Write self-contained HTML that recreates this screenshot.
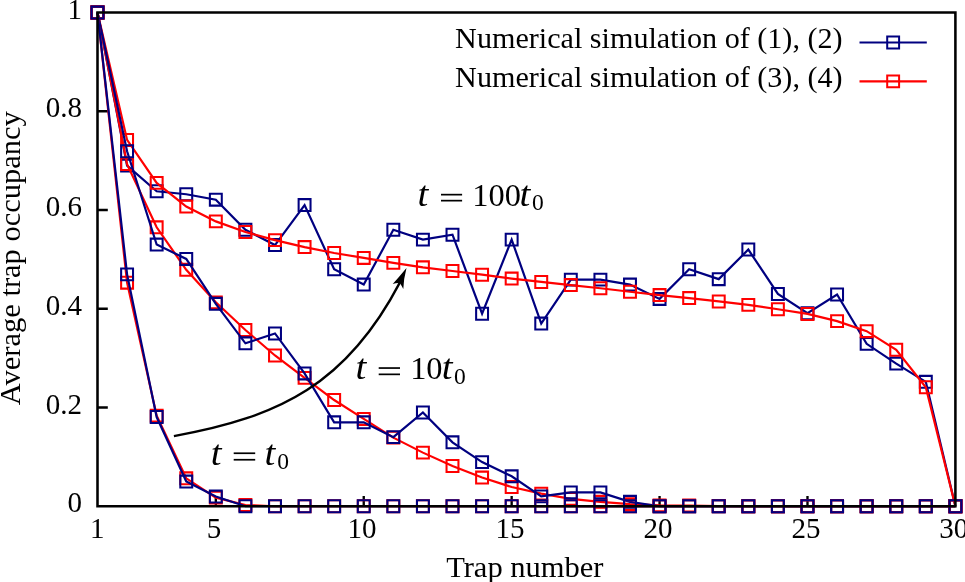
<!DOCTYPE html>
<html><head><meta charset="utf-8"><style>
html,body{margin:0;padding:0;background:#fff;}
body{width:965px;height:582px;overflow:hidden;}
svg{display:block;}
svg{will-change:transform;}
text{font-family:"Liberation Serif",serif;fill:#000;}
.i{font-style:italic;}
</style></head><body>
<svg width="965" height="582" viewBox="0 0 965 582">
<rect width="965" height="582" fill="#fff"/>
<path d="M215.83,506.25v-10.3M363.74,506.25v-10.3M511.66,506.25v-10.3M659.57,506.25v-10.3M807.49,506.25v-10.3M97.5,407.51h10.3M97.5,308.77h10.3M97.5,210.03h10.3M97.5,111.29h10.3" stroke="#000" stroke-width="2.35" fill="none"/>
<polyline points="97.50,12.55 127.08,165.60 156.67,191.27 186.25,194.23 215.83,199.66 245.41,229.78 275.00,245.08 304.58,205.09 334.16,269.27 363.74,284.58 393.33,229.78 422.91,239.65 452.49,234.71 482.08,313.71 511.66,239.65 541.24,323.58 570.82,279.64 600.41,279.64 629.99,284.58 659.57,298.90 689.16,269.27 718.74,279.15 748.32,249.53 777.90,293.96 807.49,313.21 837.07,294.45 866.65,343.82 896.23,363.57 925.82,381.84 955.40,506.25" fill="none" stroke="#000080" stroke-width="2.2" stroke-linejoin="miter" stroke-miterlimit="10"/>
<path d="M91.55,6.60h11.90v11.90h-11.90zM121.13,159.65h11.90v11.90h-11.90zM150.72,185.32h11.90v11.90h-11.90zM180.30,188.28h11.90v11.90h-11.90zM209.88,193.71h11.90v11.90h-11.90zM239.46,223.83h11.90v11.90h-11.90zM269.05,239.13h11.90v11.90h-11.90zM298.63,199.14h11.90v11.90h-11.90zM328.21,263.32h11.90v11.90h-11.90zM357.79,278.63h11.90v11.90h-11.90zM387.38,223.83h11.90v11.90h-11.90zM416.96,233.70h11.90v11.90h-11.90zM446.54,228.76h11.90v11.90h-11.90zM476.13,307.76h11.90v11.90h-11.90zM505.71,233.70h11.90v11.90h-11.90zM535.29,317.63h11.90v11.90h-11.90zM564.87,273.69h11.90v11.90h-11.90zM594.46,273.69h11.90v11.90h-11.90zM624.04,278.63h11.90v11.90h-11.90zM653.62,292.95h11.90v11.90h-11.90zM683.21,263.32h11.90v11.90h-11.90zM712.79,273.20h11.90v11.90h-11.90zM742.37,243.58h11.90v11.90h-11.90zM771.95,288.01h11.90v11.90h-11.90zM801.54,307.26h11.90v11.90h-11.90zM831.12,288.50h11.90v11.90h-11.90zM860.70,337.87h11.90v11.90h-11.90zM890.28,357.62h11.90v11.90h-11.90zM919.87,375.89h11.90v11.90h-11.90zM949.45,500.30h11.90v11.90h-11.90z" fill="none" stroke="#000080" stroke-width="2.05"/>
<polyline points="97.50,12.55 127.08,139.92 156.67,182.88 186.25,206.57 215.83,221.39 245.41,232.00 275.00,240.15 304.58,247.06 334.16,252.98 363.74,257.92 393.33,262.86 422.91,267.30 452.49,271.00 482.08,274.70 511.66,278.56 541.24,281.96 570.82,285.07 600.41,288.28 629.99,291.74 659.57,295.05 689.16,298.06 718.74,301.46 748.32,304.87 777.90,309.26 807.49,313.95 837.07,321.11 866.65,331.18 896.23,349.75 925.82,387.27 955.40,506.25" fill="none" stroke="#ff0000" stroke-width="2.2" stroke-linejoin="miter" stroke-miterlimit="10"/>
<path d="M91.55,6.60h11.90v11.90h-11.90zM121.13,133.97h11.90v11.90h-11.90zM150.72,176.93h11.90v11.90h-11.90zM180.30,200.62h11.90v11.90h-11.90zM209.88,215.44h11.90v11.90h-11.90zM239.46,226.05h11.90v11.90h-11.90zM269.05,234.20h11.90v11.90h-11.90zM298.63,241.11h11.90v11.90h-11.90zM328.21,247.03h11.90v11.90h-11.90zM357.79,251.97h11.90v11.90h-11.90zM387.38,256.91h11.90v11.90h-11.90zM416.96,261.35h11.90v11.90h-11.90zM446.54,265.05h11.90v11.90h-11.90zM476.13,268.75h11.90v11.90h-11.90zM505.71,272.61h11.90v11.90h-11.90zM535.29,276.01h11.90v11.90h-11.90zM564.87,279.12h11.90v11.90h-11.90zM594.46,282.33h11.90v11.90h-11.90zM624.04,285.79h11.90v11.90h-11.90zM653.62,289.10h11.90v11.90h-11.90zM683.21,292.11h11.90v11.90h-11.90zM712.79,295.51h11.90v11.90h-11.90zM742.37,298.92h11.90v11.90h-11.90zM771.95,303.31h11.90v11.90h-11.90zM801.54,308.00h11.90v11.90h-11.90zM831.12,315.16h11.90v11.90h-11.90zM860.70,325.23h11.90v11.90h-11.90zM890.28,343.80h11.90v11.90h-11.90zM919.87,381.32h11.90v11.90h-11.90zM949.45,500.30h11.90v11.90h-11.90z" fill="none" stroke="#ff0000" stroke-width="2.05"/>
<polyline points="97.50,12.55 127.08,164.12 156.67,227.31 186.25,269.77 215.83,302.35 245.41,330.00 275.00,355.47 304.58,377.89 334.16,400.01 363.74,418.91 393.33,437.63 422.91,452.63 452.49,466.01 482.08,477.57 511.66,487.00 541.24,493.66 570.82,498.84 600.41,501.81 629.99,504.13 659.57,505.36 689.16,505.51 718.74,506.00 748.32,506.25 777.90,506.25 807.49,506.25 837.07,506.25 866.65,506.25 896.23,506.25 925.82,506.25 955.40,506.25" fill="none" stroke="#ff0000" stroke-width="2.2" stroke-linejoin="miter" stroke-miterlimit="10"/>
<path d="M91.55,6.60h11.90v11.90h-11.90zM121.13,158.17h11.90v11.90h-11.90zM150.72,221.36h11.90v11.90h-11.90zM180.30,263.82h11.90v11.90h-11.90zM209.88,296.40h11.90v11.90h-11.90zM239.46,324.05h11.90v11.90h-11.90zM269.05,349.52h11.90v11.90h-11.90zM298.63,371.94h11.90v11.90h-11.90zM328.21,394.06h11.90v11.90h-11.90zM357.79,412.96h11.90v11.90h-11.90zM387.38,431.68h11.90v11.90h-11.90zM416.96,446.68h11.90v11.90h-11.90zM446.54,460.06h11.90v11.90h-11.90zM476.13,471.62h11.90v11.90h-11.90zM505.71,481.05h11.90v11.90h-11.90zM535.29,487.71h11.90v11.90h-11.90zM564.87,492.89h11.90v11.90h-11.90zM594.46,495.86h11.90v11.90h-11.90zM624.04,498.18h11.90v11.90h-11.90zM653.62,499.41h11.90v11.90h-11.90zM683.21,499.56h11.90v11.90h-11.90zM712.79,500.05h11.90v11.90h-11.90zM742.37,500.30h11.90v11.90h-11.90zM771.95,500.30h11.90v11.90h-11.90zM801.54,500.30h11.90v11.90h-11.90zM831.12,500.30h11.90v11.90h-11.90zM860.70,500.30h11.90v11.90h-11.90zM890.28,500.30h11.90v11.90h-11.90zM919.87,500.30h11.90v11.90h-11.90zM949.45,500.30h11.90v11.90h-11.90z" fill="none" stroke="#ff0000" stroke-width="2.05"/>
<polyline points="97.50,12.55 127.08,151.28 156.67,244.59 186.25,258.91 215.83,303.83 245.41,343.33 275.00,333.46 304.58,373.44 334.16,422.32 363.74,422.32 393.33,437.13 422.91,412.45 452.49,442.32 482.08,462.11 511.66,476.33 541.24,496.38 570.82,492.43 600.41,492.43 629.99,501.81 659.57,506.25 689.16,506.25 718.74,506.25 748.32,506.25 777.90,506.25 807.49,506.25 837.07,506.25 866.65,506.25 896.23,506.25 925.82,506.25 955.40,506.25" fill="none" stroke="#000080" stroke-width="2.2" stroke-linejoin="miter" stroke-miterlimit="10"/>
<path d="M91.55,6.60h11.90v11.90h-11.90zM121.13,145.33h11.90v11.90h-11.90zM150.72,238.64h11.90v11.90h-11.90zM180.30,252.96h11.90v11.90h-11.90zM209.88,297.88h11.90v11.90h-11.90zM239.46,337.38h11.90v11.90h-11.90zM269.05,327.51h11.90v11.90h-11.90zM298.63,367.49h11.90v11.90h-11.90zM328.21,416.37h11.90v11.90h-11.90zM357.79,416.37h11.90v11.90h-11.90zM387.38,431.18h11.90v11.90h-11.90zM416.96,406.50h11.90v11.90h-11.90zM446.54,436.37h11.90v11.90h-11.90zM476.13,456.16h11.90v11.90h-11.90zM505.71,470.38h11.90v11.90h-11.90zM535.29,490.43h11.90v11.90h-11.90zM564.87,486.48h11.90v11.90h-11.90zM594.46,486.48h11.90v11.90h-11.90zM624.04,495.86h11.90v11.90h-11.90zM653.62,500.30h11.90v11.90h-11.90zM683.21,500.30h11.90v11.90h-11.90zM712.79,500.30h11.90v11.90h-11.90zM742.37,500.30h11.90v11.90h-11.90zM771.95,500.30h11.90v11.90h-11.90zM801.54,500.30h11.90v11.90h-11.90zM831.12,500.30h11.90v11.90h-11.90zM860.70,500.30h11.90v11.90h-11.90zM890.28,500.30h11.90v11.90h-11.90zM919.87,500.30h11.90v11.90h-11.90zM949.45,500.30h11.90v11.90h-11.90z" fill="none" stroke="#000080" stroke-width="2.05"/>
<polyline points="97.50,12.55 127.08,282.65 156.67,415.66 186.25,478.31 215.83,497.61 245.41,505.02 275.00,506.25 304.58,506.25 334.16,506.25 363.74,506.25 393.33,506.25 422.91,506.25 452.49,506.25 482.08,506.25 511.66,506.25 541.24,506.25 570.82,506.25 600.41,506.25 629.99,506.25 659.57,506.25 689.16,506.25 718.74,506.25 748.32,506.25 777.90,506.25 807.49,506.25 837.07,506.25 866.65,506.25 896.23,506.25 925.82,506.25 955.40,506.25" fill="none" stroke="#ff0000" stroke-width="2.2" stroke-linejoin="miter" stroke-miterlimit="10"/>
<path d="M91.55,6.60h11.90v11.90h-11.90zM121.13,276.70h11.90v11.90h-11.90zM150.72,409.71h11.90v11.90h-11.90zM180.30,472.36h11.90v11.90h-11.90zM209.88,491.66h11.90v11.90h-11.90zM239.46,499.07h11.90v11.90h-11.90zM269.05,500.30h11.90v11.90h-11.90zM298.63,500.30h11.90v11.90h-11.90zM328.21,500.30h11.90v11.90h-11.90zM357.79,500.30h11.90v11.90h-11.90zM387.38,500.30h11.90v11.90h-11.90zM416.96,500.30h11.90v11.90h-11.90zM446.54,500.30h11.90v11.90h-11.90zM476.13,500.30h11.90v11.90h-11.90zM505.71,500.30h11.90v11.90h-11.90zM535.29,500.30h11.90v11.90h-11.90zM564.87,500.30h11.90v11.90h-11.90zM594.46,500.30h11.90v11.90h-11.90zM624.04,500.30h11.90v11.90h-11.90zM653.62,500.30h11.90v11.90h-11.90zM683.21,500.30h11.90v11.90h-11.90zM712.79,500.30h11.90v11.90h-11.90zM742.37,500.30h11.90v11.90h-11.90zM771.95,500.30h11.90v11.90h-11.90zM801.54,500.30h11.90v11.90h-11.90zM831.12,500.30h11.90v11.90h-11.90zM860.70,500.30h11.90v11.90h-11.90zM890.28,500.30h11.90v11.90h-11.90zM919.87,500.30h11.90v11.90h-11.90zM949.45,500.30h11.90v11.90h-11.90z" fill="none" stroke="#ff0000" stroke-width="2.05"/>
<polyline points="97.50,12.55 127.08,274.36 156.67,417.04 186.25,481.56 215.83,496.57 245.41,506.25 275.00,506.25 304.58,506.25 334.16,506.25 363.74,506.25 393.33,506.25 422.91,506.25 452.49,506.25 482.08,506.25 511.66,506.25 541.24,506.25 570.82,506.25 600.41,506.25 629.99,506.25 659.57,506.25 689.16,506.25 718.74,506.25 748.32,506.25 777.90,506.25 807.49,506.25 837.07,506.25 866.65,506.25 896.23,506.25 925.82,506.25 955.40,506.25" fill="none" stroke="#000080" stroke-width="2.2" stroke-linejoin="miter" stroke-miterlimit="10"/>
<path d="M91.55,6.60h11.90v11.90h-11.90zM121.13,268.41h11.90v11.90h-11.90zM150.72,411.09h11.90v11.90h-11.90zM180.30,475.62h11.90v11.90h-11.90zM209.88,490.62h11.90v11.90h-11.90zM239.46,500.30h11.90v11.90h-11.90zM269.05,500.30h11.90v11.90h-11.90zM298.63,500.30h11.90v11.90h-11.90zM328.21,500.30h11.90v11.90h-11.90zM357.79,500.30h11.90v11.90h-11.90zM387.38,500.30h11.90v11.90h-11.90zM416.96,500.30h11.90v11.90h-11.90zM446.54,500.30h11.90v11.90h-11.90zM476.13,500.30h11.90v11.90h-11.90zM505.71,500.30h11.90v11.90h-11.90zM535.29,500.30h11.90v11.90h-11.90zM564.87,500.30h11.90v11.90h-11.90zM594.46,500.30h11.90v11.90h-11.90zM624.04,500.30h11.90v11.90h-11.90zM653.62,500.30h11.90v11.90h-11.90zM683.21,500.30h11.90v11.90h-11.90zM712.79,500.30h11.90v11.90h-11.90zM742.37,500.30h11.90v11.90h-11.90zM771.95,500.30h11.90v11.90h-11.90zM801.54,500.30h11.90v11.90h-11.90zM831.12,500.30h11.90v11.90h-11.90zM860.70,500.30h11.90v11.90h-11.90zM890.28,500.30h11.90v11.90h-11.90zM919.87,500.30h11.90v11.90h-11.90zM949.45,500.30h11.90v11.90h-11.90z" fill="none" stroke="#000080" stroke-width="2.05"/>
<path d="M173.9,436.1 C280.36,416.91 347.0,383.5 399.8,282.6" fill="none" stroke="#000" stroke-width="2.35"/>
<path d="M406.5,268.0 Q399,277 392.7,284.1 Q397,282.6 400.0,283.2 Q401.6,285.6 403.3,289.0 Q403.6,279 406.5,268.0 Z" fill="#000"/>
<path d="M97.5,12.55H955.4V506.25H97.5Z" fill="none" stroke="#000" stroke-width="2.55"/>
<text x="82" y="18.7" font-size="29" text-anchor="end">1</text>
<text x="82" y="117.4" font-size="29" text-anchor="end">0.8</text>
<text x="82" y="216.1" font-size="29" text-anchor="end">0.6</text>
<text x="82" y="314.9" font-size="29" text-anchor="end">0.4</text>
<text x="82" y="413.6" font-size="29" text-anchor="end">0.2</text>
<text x="82" y="512.4" font-size="29" text-anchor="end">0</text>
<text x="97.3" y="538" font-size="29" text-anchor="middle">1</text>
<text x="214.1" y="538" font-size="29" text-anchor="middle">5</text>
<text x="362.1" y="538" font-size="29" text-anchor="middle">10</text>
<text x="510.1" y="538" font-size="29" text-anchor="middle">15</text>
<text x="658.0" y="538" font-size="29" text-anchor="middle">20</text>
<text x="805.9" y="538" font-size="29" text-anchor="middle">25</text>
<text x="953.8" y="538" font-size="29" text-anchor="middle">30</text>
<text x="446.15" y="577" font-size="29" textLength="157.4" lengthAdjust="spacingAndGlyphs">Trap number</text>
<text transform="translate(20.1,405.2) rotate(-90)" font-size="29" textLength="294.0" lengthAdjust="spacingAndGlyphs">Average trap occupancy</text>
<text x="455.13" y="47.8" font-size="29" textLength="387.5" lengthAdjust="spacingAndGlyphs">Numerical simulation of (1), (2)</text>
<text x="455.13" y="86.7" font-size="29" textLength="387.5" lengthAdjust="spacingAndGlyphs">Numerical simulation of (3), (4)</text>
<path d="M859.5,42.5H926.8" stroke="#000080" stroke-width="2.2"/>
<path d="M887.20,36.55h11.9v11.9h-11.9z" stroke="#000080" stroke-width="2" fill="none"/>
<path d="M859.5,81.4H926.8" stroke="#ff0000" stroke-width="2.2"/>
<path d="M887.20,75.45h11.9v11.9h-11.9z" stroke="#ff0000" stroke-width="2" fill="none"/>
<text class="i" x="417.62" y="205.60" font-size="36.0" textLength="10.80" lengthAdjust="spacingAndGlyphs">t</text>
<rect x="441.00" y="193.80" width="21.10" height="1.7" fill="#000"/><rect x="441.00" y="199.80" width="21.10" height="1.7" fill="#000"/>
<text x="472.35" y="205.60" font-size="32.4">100</text>
<text class="i" x="519.42" y="205.60" font-size="36.0" textLength="10.80" lengthAdjust="spacingAndGlyphs">t</text>
<text x="532.10" y="210.47" font-size="23.5">0</text>
<text class="i" x="355.52" y="379.40" font-size="36.0" textLength="10.80" lengthAdjust="spacingAndGlyphs">t</text>
<rect x="378.70" y="367.20" width="21.30" height="1.7" fill="#000"/><rect x="378.70" y="373.50" width="21.30" height="1.7" fill="#000"/>
<text x="410.15" y="379.40" font-size="32.4">10</text>
<text class="i" x="441.72" y="379.40" font-size="36.0" textLength="10.80" lengthAdjust="spacingAndGlyphs">t</text>
<text x="454.10" y="384.37" font-size="23.5">0</text>
<text class="i" x="210.72" y="464.70" font-size="36.0" textLength="10.80" lengthAdjust="spacingAndGlyphs">t</text>
<rect x="233.70" y="452.40" width="21.50" height="1.7" fill="#000"/><rect x="233.70" y="458.90" width="21.50" height="1.7" fill="#000"/>
<text class="i" x="264.52" y="464.70" font-size="36.0" textLength="10.80" lengthAdjust="spacingAndGlyphs">t</text>
<text x="277.30" y="469.47" font-size="23.5">0</text>
</svg>
</body></html>
